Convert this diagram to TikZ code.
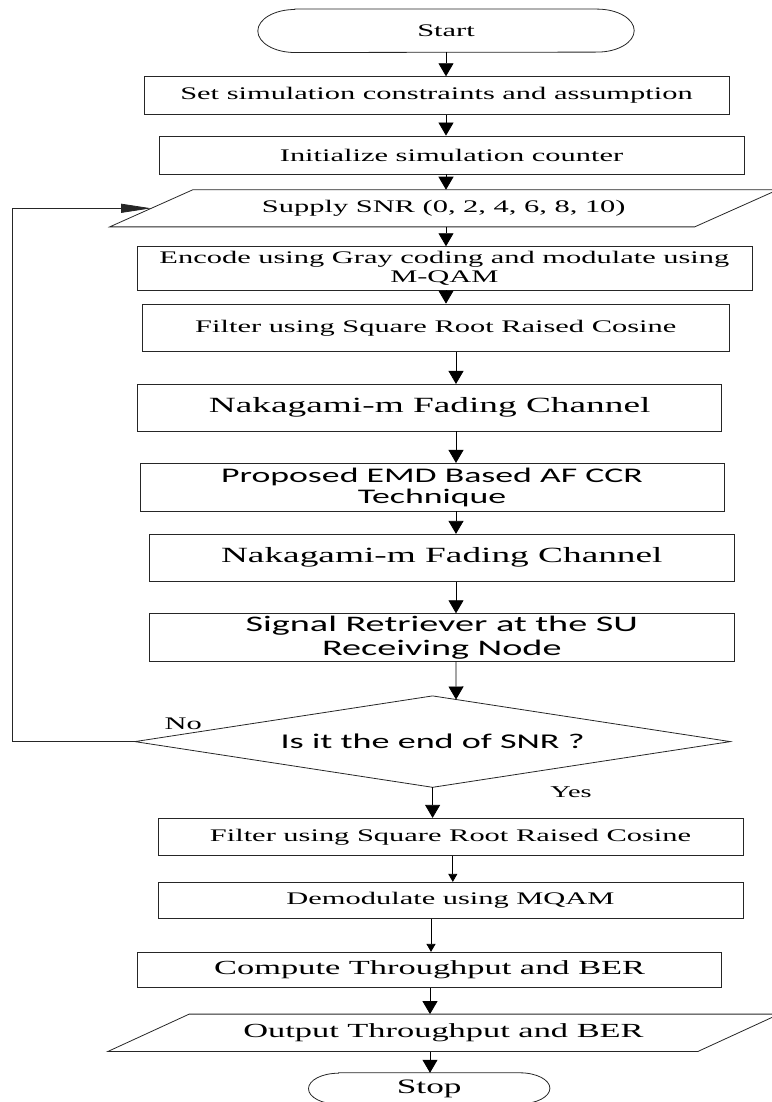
\documentclass[tikz,border=0pt]{standalone}
\usepackage{fontspec}
\setmainfont{Liberation Serif}[FakeStretch=1.72]
\newfontfamily\calfont{Carlito}[FakeStretch=1.72]
\usetikzlibrary{arrows.meta,calc}
\begin{document}
\begin{tikzpicture}[x=1pt,y=-1pt,
  box/.style={draw=black!85, line width=0.8pt, inner sep=2pt, align=center},
  ghost/.style={inner sep=0pt, align=center},
  txt/.style={font=\fontsize{17.7}{18.6}\selectfont},
  big/.style={font=\fontsize{21.7}{22}\selectfont},
  mid/.style={font=\fontsize{20}{21}\selectfont},
  calA/.style={font=\calfont\fontsize{20.8}{20.6}\selectfont},
  calB/.style={font=\calfont\fontsize{22.2}{23.5}\selectfont},
  calC/.style={font=\calfont\fontsize{21}{22}\selectfont},
  outline/.style={draw=black!85, line width=0.8pt},
  flow/.style={draw=black, line width=0.8pt, -{Triangle[length=13pt,width=15pt]}},
  flowsmall/.style={draw=black, line width=0.8pt, -{Triangle[length=8pt,width=9pt]}},
  flowloop/.style={draw=black!85, line width=0.8pt, -{Triangle[length=30pt,width=9pt]}}
]
\useasboundingbox (0,0) rectangle (771,1102);

% column coordinates for the connectors
\coordinate (c1) at (446,0);
\coordinate (c2) at (456,0);
\coordinate (c4) at (452.8,0);
\coordinate (c5) at (431,0);
\coordinate (c6) at (430,0);
\coordinate (lx) at (12.3,0);

% Start
\node[ghost, txt, minimum width=376pt, minimum height=43pt] (start) at (446,30.8) {Start};
\draw[outline] ([xshift=37pt]start.north west) -- ([xshift=-37pt]start.north east)
  arc[start angle=90,end angle=-90,x radius=37pt,y radius=21.5pt]
  -- ([xshift=37pt]start.south west)
  arc[start angle=270,end angle=90,x radius=37pt,y radius=21.5pt] -- cycle;

\node[box, txt, minimum width=585pt, minimum height=37.6pt] (set) at (436.5,95.5) {Set simulation constraints and assumption};
\node[box, txt, minimum width=585pt, minimum height=38pt] (init) at (451.5,155) {Initialize simulation counter};

% Supply (parallelogram)
\node[ghost, txt, minimum width=667.7pt, minimum height=36.7pt] (supply) at (443.8,208.3) {Supply SNR (0, 2, 4, 6, 8, 10)};
\draw[outline] (supply.south west) -- ++(585,0) -- (supply.north east) -- ++(-585,0) -- cycle;

\node[box, txt, minimum width=615pt, minimum height=43.3pt] (enc) at (444.4,268.3) {Encode using Gray coding and modulate using\\M-QAM};
\node[box, txt, minimum width=586.4pt, minimum height=47.7pt] (fil1) at (435.8,327.9) {Filter using Square Root Raised Cosine};
\node[box, big, minimum width=584pt, minimum height=46.7pt] (nak1) at (429.7,407.7) {Nakagami-m Fading Channel};
\node[box, calA, minimum width=584pt, minimum height=47.7pt] (prop) at (432,487.2) {Proposed EMD Based AF CCR\\Technique};
\node[box, big, minimum width=584.5pt, minimum height=47pt] (nak2) at (441.8,557.8) {Nakagami-m Fading Channel};
\node[box, calB, inner sep=0pt, minimum width=584.5pt, minimum height=47.6pt] (sig) at (441.8,637.5) {Signal Retriever at the SU\\Receiving Node};

% Decision
\node[ghost, calC, minimum width=595pt, minimum height=91pt] (dec) at (432.6,741.6) {Is it the end of SNR ?};
\draw[outline] (dec.north) -- (dec.east) -- (dec.south) -- (dec.west) -- cycle;

\node[box, txt, minimum width=585pt, minimum height=37pt] (fil2) at (450.5,836.8) {Filter using Square Root Raised Cosine};
\node[box, txt, minimum width=585pt, minimum height=36pt] (dem) at (450.5,900.3) {Demodulate using MQAM};
\node[box, mid, minimum width=584pt, minimum height=35pt] (comp) at (429.7,969.8) {Compute Throughput and BER};

% Output (parallelogram)
\node[ghost, mid, minimum width=671pt, minimum height=37pt] (out) at (443.5,1032.8) {Output Throughput and BER};
\draw[outline] (out.south west) -- ++(590,0) -- (out.north east) -- ++(-590,0) -- cycle;

% Stop
\node[ghost, font=\fontsize{20.5}{21}\selectfont, minimum width=241pt, minimum height=31pt] (stop) at (429.2,1088.5) {Stop};
\draw[outline] ([xshift=30pt]stop.north west) -- ([xshift=-30pt]stop.north east)
  arc[start angle=90,end angle=-90,x radius=30pt,y radius=15.5pt]
  -- ([xshift=30pt]stop.south west)
  arc[start angle=270,end angle=90,x radius=30pt,y radius=15.5pt] -- cycle;

% Labels
\node[txt, anchor=base, inner sep=0pt] (nolab) at (183.3,729.3) {No};
\node[font=\fontsize{16.5}{17}\selectfont, anchor=base, inner sep=0pt] (yeslab) at (571,797.3) {Yes};

% Connectors
\draw[flow] (start.south -| c1) -- (set.north -| c1);
\draw[flow] (set.south -| c1) -- (init.north -| c1);
\draw[flow] (init.south -| c1) -- (supply.north -| c1);
\draw[flow] (supply.south -| c1) -- (enc.north -| c1);
\draw[flow] (enc.south -| c1) -- (fil1.north -| c1);
\draw[flow] (fil1.south -| c2) -- (nak1.north -| c2);
\draw[flow] (nak1.south -| c2) -- (prop.north -| c2);
\draw[flow] (prop.south -| c2) -- (nak2.north -| c2);
\draw[flow] (nak2.south -| c2) -- (sig.north -| c2);
\coordinate (decin) at ($(dec.north)!0.0787!(dec.east)$);
\draw[flow] (sig.south -| c2) -- (decin);
\draw[flow] (dec.south) -- (dec.south |- fil2.north);
\draw[flowsmall] (fil2.south -| c4) -- (dem.north -| c4);
\draw[flowsmall] (dem.south -| c5) -- (comp.north -| c5);
\draw[flow] (comp.south -| c6) -- (out.north -| c6);
\draw[flow] (out.south -| c6) -- (stop.north -| c6);

% Loop back (No)
\coordinate (loopend) at ($(supply.west)+(41.4,0)$);
\draw[flowloop] (dec.west) -- (dec.west -| lx) -- (lx |- loopend) -- (loopend);
\end{tikzpicture}
\end{document}
